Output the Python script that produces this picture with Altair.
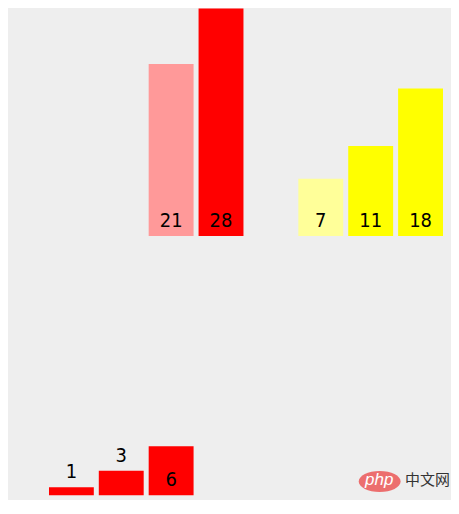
import altair as alt
import pandas as pd

# ---- data ----
columns = [0, 1, 2, 3, 4, 5, 6, 7]

top_cols = [2, 3, 5, 6, 7]
top_vals = [21, 28, 7, 11, 18]
top_groups = ["red-prev", "red", "yellow-prev", "yellow", "yellow"]

bottom_cols = [0, 1, 2]
bottom_vals = [1, 3, 6]
bottom_groups = ["red", "red", "red"]

group_names = ["red-prev", "red", "yellow-prev", "yellow"]
group_colors = ["#ff9999", "#ff0000", "#ffff99", "#ffff00"]

watermark_logo = ["php"]
watermark_text = ["中文网"]

top_df = pd.DataFrame({"col": top_cols, "value": top_vals, "group": top_groups})
bottom_df = pd.DataFrame({"col": bottom_cols, "value": bottom_vals, "group": bottom_groups})

x_scale = alt.Scale(domain=columns, paddingInner=0.1, paddingOuter=0)
y_scale = alt.Scale(domain=[0, 27.76], nice=False, zero=True)
color_scale = alt.Scale(domain=group_names, range=group_colors)

LABEL_FONT = "DejaVu Sans Condensed"


def panel(df):
    base = alt.Chart(df).encode(x=alt.X("col:O", scale=x_scale, axis=None))
    bars = base.mark_bar(clip=True).encode(
        y=alt.Y("value:Q", scale=y_scale, axis=None),
        color=alt.Color("group:N", scale=color_scale, legend=None),
    )
    labels = base.transform_calculate(
        label_y="datum.value < 5 ? datum.value : 0"
    ).mark_text(
        dy=-15, fontSize=20, font=LABEL_FONT, color="black", baseline="middle"
    ).encode(
        y=alt.Y("label_y:Q", scale=y_scale, axis=None),
        text="value:Q",
    )
    return bars, labels


top_bars, top_labels = panel(top_df)
bot_bars, bot_labels = panel(bottom_df)

wm_df = pd.DataFrame({"logo": watermark_logo, "text": watermark_text})
ellipse = "M-1,0A1,0.5,0,1,1,1,0A1,0.5,0,1,1,-1,0Z"
wm_shape = alt.Chart(wm_df).mark_point(
    shape=ellipse, size=1764, filled=True, color="#ec6e6e", opacity=1
).encode(x=alt.value(331.5), y=alt.value(214))
wm_logo = alt.Chart(wm_df).mark_text(
    font="Liberation Sans", fontStyle="italic", fontSize=17, color="white", baseline="middle"
).encode(x=alt.value(331), y=alt.value(213), text="logo:N")
wm_text = alt.Chart(wm_df).mark_text(
    font="Noto Sans CJK SC", fontSize=15, color="#333333", baseline="middle", align="left"
).encode(x=alt.value(357), y=alt.value(212.5), text="text:N")

top = alt.layer(top_bars, top_labels).properties(width=395, height=228)
bottom = alt.layer(bot_bars, bot_labels, wm_shape, wm_logo, wm_text).properties(width=395, height=228)

chart = alt.vconcat(top, bottom, spacing=32).properties(
    padding={"left": 41, "top": 0, "right": 0, "bottom": 4},
    background="#eeeeee",
).configure_view(stroke=None)

chart.save("out.html", embed_options={"renderer": "svg", "actions": False})
